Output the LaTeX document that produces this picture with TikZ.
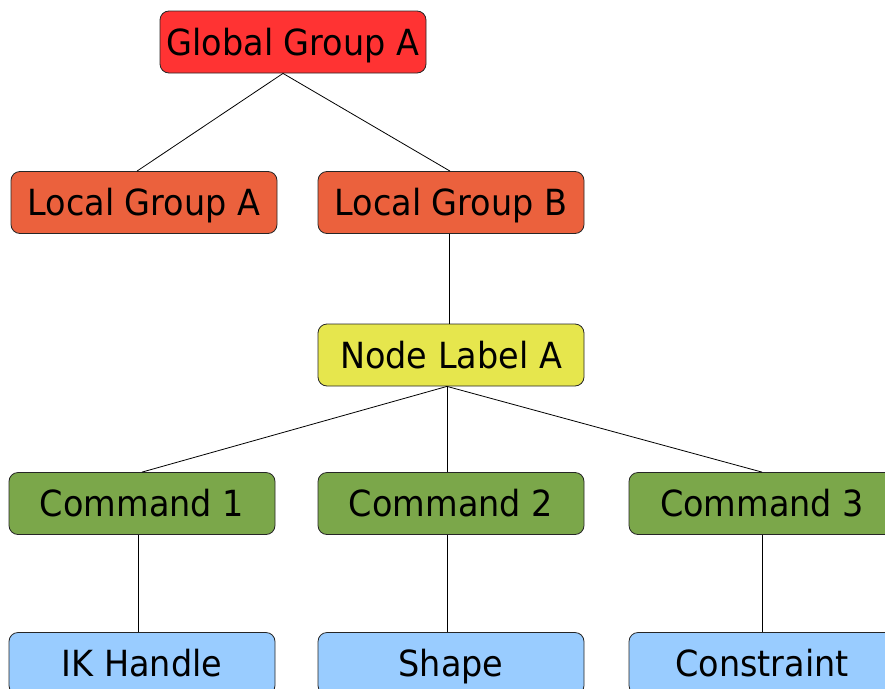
\documentclass[tikz,border=0pt]{standalone}
\usepackage{fontspec}
\setmainfont{DejaVu Sans}[FakeStretch=0.93]
\definecolor{cglobal}{HTML}{FF3333}
\definecolor{clocal}{HTML}{EB613D}
\definecolor{clabel}{HTML}{E6E64D}
\definecolor{ccmd}{HTML}{7BA74A}
\definecolor{cobj}{HTML}{99CCFF}
\tikzset{
  box/.style={draw=black!85, line width=0.8pt, rounded corners=9pt, minimum width=266pt, minimum height=62pt, inner sep=0pt,
    font=\fontsize{36}{40}\selectfont, text height=26pt, text depth=0pt},
  link/.style={draw=black, line width=0.8pt}
}
\begin{document}
\begin{tikzpicture}[x=1pt,y=-1pt]
\useasboundingbox (0,0) rectangle (885,688);
\clip (0,0) rectangle (885,688);
\node[box, fill=cglobal] (g) at (293,42) {Global Group A};
\node[box, fill=clocal] (la) at (144,202.5) {Local Group A};
\node[box, fill=clocal] (lb) at (451,202.5) {Local Group B};
\node[box, fill=clabel] (nl) at (451,355) {Node Label A};
\node[box, fill=ccmd] (c1) at (142,503.5) {Command 1};
\node[box, fill=ccmd] (c2) at (451,503.5) {Command 2};
\node[box, fill=ccmd] (c3) at (762,503.5) {Command 3};
\node[box, fill=cobj] (o1) at (142,663.5) {IK Handle};
\node[box, fill=cobj] (o2) at (451,663.5) {Shape};
\node[box, fill=cobj] (o3) at (762,663.5) {Constraint};
\draw[link] ([xshift=-10pt]g.south) -- ([xshift=-7pt]la.north);
\draw[link] ([xshift=-10pt]g.south) -- ([xshift=-1pt]lb.north);
\draw[link] ([xshift=-2pt]lb.south) -- ([xshift=-2pt]nl.north);
\draw[link] ([xshift=-4pt]nl.south) -- (c1.north);
\draw[link] ([xshift=-4pt]nl.south) -- ([xshift=-4pt]c2.north);
\draw[link] ([xshift=-4pt]nl.south) -- (c3.north);
\draw[link] ([xshift=-4pt]c1.south) -- ([xshift=-4pt]o1.north);
\draw[link] ([xshift=-4pt]c2.south) -- ([xshift=-4pt]o2.north);
\draw[link] (c3.south) -- (o3.north);
\end{tikzpicture}
\end{document}
